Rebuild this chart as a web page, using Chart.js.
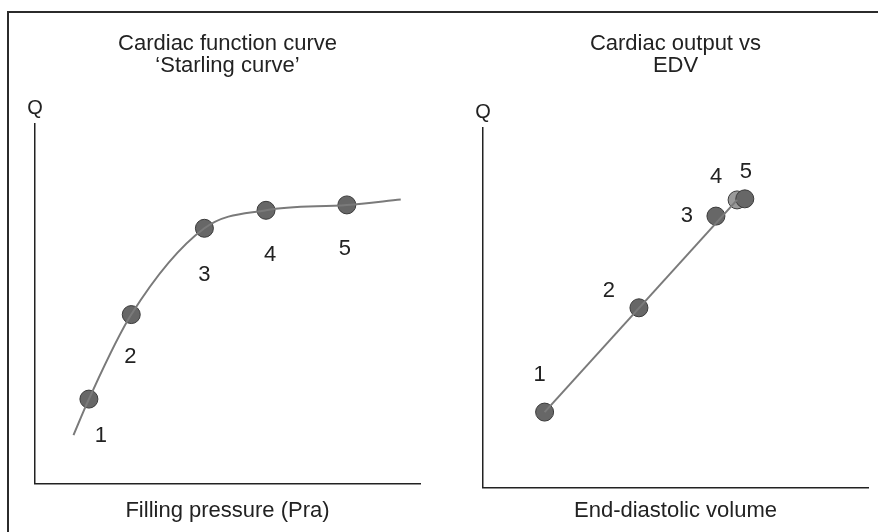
<!DOCTYPE html>
<html>
<head>
<meta charset="utf-8">
<title>Cardiac function curves</title>
<script src="https://cdn.jsdelivr.net/npm/chart.js@4/dist/chart.umd.min.js"></script>
<style>
  body { margin: 0; background: #fff; }
  #wrap { position: relative; width: 878px; height: 532px; overflow: hidden; }
  #frame { position: absolute; left: 7px; top: 11px; width: 880px; height: 540px;
           border-left: 2px solid #2b2b2b; border-top: 2px solid #2b2b2b; }
  canvas { position: absolute; top: 0; }
  #starling { left: 0; }
  #edv { left: 440px; }
</style>
</head>
<body>
<div id="wrap">
  <div id="frame"></div>
  <canvas id="starling" width="440" height="532"></canvas>
  <canvas id="edv" width="438" height="532"></canvas>
</div>
<script>
// DATA
const pointLabels = ["1", "2", "3", "4", "5"];

// left: Starling curve (filling pressure vs Q)
const starlingX = [1.4, 2.5, 4.4, 6.0, 8.1];
const starlingY = [2.35, 4.7, 7.1, 7.6, 7.75];
const starlingCurveX = [1.0, 1.4, 2.5, 4.4, 6.0, 8.1, 9.5];
const starlingCurveY = [1.35, 2.35, 4.7, 7.1, 7.6, 7.75, 7.9];

// right: cardiac output vs EDV
const edvX = [1.6, 4.05, 6.05, 6.6, 6.8];
const edvY = [2.1, 5.0, 7.55, 8.0, 8.03];
const edvLineX = [1.6, 6.6];
const edvLineY = [2.1, 8.0];

const FONT = "'Liberation Sans', Arial, Helvetica, sans-serif";
const TEXT = "#222";

function xy(xs, ys) {
  return xs.map((x, i) => ({ x, y: ys[i] }));
}

// number labels next to each marker + the "Q" above the y axis
const labelPlugin = {
  id: "labels",
  afterDatasetsDraw(chart, args, opts) {
    const c = chart.ctx;
    const meta = chart.getDatasetMeta(1);
    c.save();
    c.fillStyle = TEXT;
    c.font = "22px " + FONT;
    c.textAlign = "center";
    c.textBaseline = "middle";
    meta.data.forEach((pt, i) => {
      const [dx, dy] = opts.offsets[i];
      c.fillText(pointLabels[i], pt.x + dx, pt.y + dy);
    });
    c.font = "20px " + FONT;
    c.fillText("Q", chart.chartArea.left, chart.chartArea.top - 16);
    c.restore();
  }
};

function makeChart(id, cfg) {
  return new Chart(document.getElementById(id), {
    type: "scatter",
    data: {
      datasets: [
        {
          data: xy(cfg.lineX, cfg.lineY),
          showLine: true,
          borderColor: "#7a7a7a",
          borderWidth: 2,
          pointRadius: 0,
          cubicInterpolationMode: cfg.smooth ? "monotone" : "default",
          tension: 0,
        },
        {
          data: xy(cfg.ptX, cfg.ptY),
          showLine: false,
          pointRadius: 9,
          pointBackgroundColor: cfg.pointColors,
          pointBorderColor: "#3a3a3a",
          pointBorderWidth: 1,
        }
      ]
    },
    options: {
      responsive: false,
      animation: false,
      devicePixelRatio: 1,
      layout: { padding: cfg.padding },
      plugins: {
        legend: { display: false },
        tooltip: { enabled: false },
        title: {
          display: true,
          text: cfg.title,
          color: TEXT,
          font: { family: FONT, size: 22, weight: "normal", lineHeight: 1.0 },
          padding: { top: 33, bottom: cfg.titleGap },
        },
        labels: { offsets: cfg.offsets },
      },
      scales: {
        x: {
          type: "linear", min: 0, max: 10,
          ticks: { display: false },
          grid: { display: false, drawTicks: false },
          border: { display: true, color: "#222", width: 1.5 },
          title: {
            display: true, text: cfg.xTitle, color: TEXT,
            font: { family: FONT, size: 22, lineHeight: 1.2 },
            padding: { top: cfg.xTitleGap, bottom: 0 },
          },
        },
        y: {
          type: "linear", min: 0, max: 10,
          ticks: { display: false },
          grid: { display: false, drawTicks: false },
          border: { display: true, color: "#222", width: 1.5 },
        }
      }
    },
    plugins: [labelPlugin]
  });
}

makeChart("starling", {
  title: ["Cardiac function curve", "\u2018Starling curve\u2019"],
  xTitle: "Filling pressure (Pra)",
  lineX: starlingCurveX, lineY: starlingCurveY, smooth: true,
  ptX: starlingX, ptY: starlingY,
  pointColors: "#676767",
  titleGap: 47,
  xTitleGap: 14,
  padding: { left: 35, right: 20, top: 0, bottom: 8 },
  offsets: [[12, 37], [-1, 42], [0, 47], [4, 45], [-2, 44]],
});

makeChart("edv", {
  title: ["Cardiac output vs", "EDV"],
  xTitle: "End-diastolic volume",
  lineX: edvLineX, lineY: edvLineY, smooth: false,
  ptX: edvX, ptY: edvY,
  pointColors: ["#676767", "#676767", "#676767", "#9a9a9a", "#676767"],
  titleGap: 51,
  xTitleGap: 10,
  padding: { left: 43, right: 10, top: 0, bottom: 8 },
  offsets: [[-5, -37], [-30, -17], [-29, 0], [-21, -23], [1, -27]],
});
</script>
</body>
</html>
